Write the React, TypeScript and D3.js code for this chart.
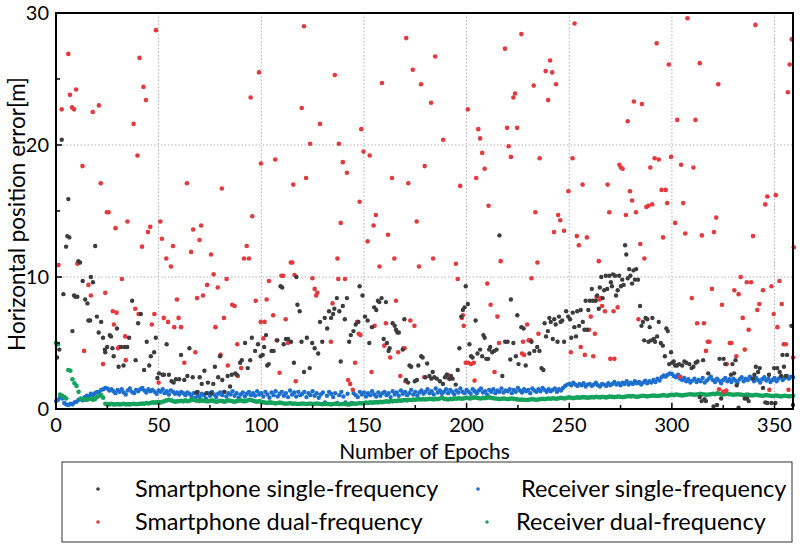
import React, { useEffect, useRef } from 'react';
import * as d3 from 'd3';

// Smartphone single-frequency: [epoch, error (m)]
const phoneSingle: [number, number][] = [
  [0.5,3.9],[1.6,4.5],[2.8,20.4],[3.6,8.7],[4.9,12.3],[5.5,13.1],[6,15.9],[6.5,13.0],[8,5.9],[8.8,8.6],
  [9.5,8.5],[10.4,8.5],[10.9,11.2],[11.7,11.1],[13,9.7],[14.2,8.3],[15.3,8.0],[15.8,6.7],[16.6,6.7],[17,10.0],
  [18,9.6],[19.1,12.35],[19.9,7.0],[20.8,5.8],[22,6.6],[22.9,5.4],[23.8,4.5],[24,4.3],[24.9,4.7],[26.2,5.6],
  [26.8,5.5],[27.5,4.6],[28.1,4.0],[29.7,6.1],[30.5,3.2],[31.7,4.7],[32.9,3.3],[33.4,4.7],[34.7,4.7],[35.6,5.4],
  [37.1,8.2],[38.8,3.7],[40,6.5],[41.3,7.2],[42.9,2.95],[44.2,5.1],[45.4,3.3],[46.2,4.0],[47.8,4.3],[48.6,5.4],
  [49.4,2.35],[50.2,2.7],[51.9,2.6],[52.6,2.6],[53.9,4.9],[55,2.6],[56.3,2.1],[57.3,2.0],[58.4,2.25],[60,2.25],
  [60.9,4.1],[62.5,2.2],[64,2.5],[65,4.6],[66.6,2.4],[68.3,1.25],[69,1.3],[70,2.4],[71,1.9],[72.3,2.9],
  [73.2,1.2],[74,2.0],[75.5,1.2],[76.6,1.9],[77.4,3.2],[79,2.4],[79.9,4.0],[81,2.2],[82,1.3],[83.6,2.5],
  [84.8,1.7],[85.6,2.6],[87.3,2.7],[88,2.6],[89.7,3.5],[90.5,3.7],[92.1,5.0],[93.4,3.1],[94.6,3.7],[95.4,5.4],
  [97,4.4],[98.4,4.9],[99.7,4.0],[100.7,4.1],[101.4,4.7],[102.3,5.6],[102.9,3.3],[103.6,3.4],[105,4.4],[106,4.4],
  [107.8,5.2],[109.4,9.3],[110.2,9.2],[110.9,4.9],[112,5.3],[113,5.3],[114.5,5.1],[115.9,3.5],[117.1,10.0],[117.6,7.9],
  [118.7,7.4],[119.6,5.1],[120.8,2.8],[122.2,5.4],[123.6,3.1],[124.8,5.0],[126,4.6],[127.7,4.2],[128.6,6.6],[129.7,5.1],
  [130.9,6.9],[132.1,6.1],[133,7.4],[134,6.9],[135,7.2],[135.6,7.6],[136.8,8.4],[138,7.4],[138.7,3.6],[139.7,7.8],
  [140.7,6.8],[141.7,8.4],[142.8,5.1],[143.6,5.6],[144.9,5.9],[146,6.4],[147.3,6.6],[147.9,9.3],[149.3,8.6],[150.5,7.0],
  [151.8,6.7],[152.6,5.0],[153.9,6.2],[155,7.7],[156,7.5],[156.8,8.2],[157.5,8.1],[158.6,8.4],[159.6,5.3],[160.7,8.1],
  [161.2,5.0],[162,4.4],[162.5,4.6],[164,6.5],[165,6.3],[165.6,6.0],[166.3,5.8],[167,5.8],[168.9,4.5],[169.7,6.8],
  [170.5,2.2],[171.5,2.0],[172.2,3.3],[173,3.2],[174.8,2.1],[175.8,2.2],[176.5,3.3],[177.9,4.0],[178.6,3.9],[180,2.4],
  [180.8,3.45],[181.9,2.5],[182.8,2.3],[183.5,2.8],[184.3,2.4],[185.5,2.3],[187,2.1],[188.5,1.9],[189.5,2.4],[190.3,2.6],
  [191.6,2.3],[192.4,2.5],[193.2,2.3],[194.7,1.85],[195.7,2.95],[196.5,4.6],[197.4,7.0],[198.2,7.5],[199,7.7],[199.6,9.3],
  [200.6,7.95],[201.4,4.9],[202.2,4.0],[202.9,3.9],[204.4,6.7],[205.3,4.2],[206.6,4.5],[207.6,4.0],[208.2,5.6],[208.8,5.4],
  [209.6,3.8],[210.5,3.8],[211,4.5],[211.5,4.7],[212.5,4.3],[213.5,4.4],[214.6,4.5],[216,13.15],[217.4,2.5],[218.8,5.1],
  [220,5.1],[221.3,3.75],[221.6,8.3],[222.8,5.0],[224,4.0],[224.7,7.1],[225.3,3.4],[226.7,6.2],[227.8,6.1],[228.8,3.3],
  [230.6,4.2],[231.6,5.1],[233,4.4],[234.4,4.7],[235.5,4.4],[236.5,3.1],[237.4,2.95],[238,6.5],[238.7,5.5],[239.6,5.9],
  [240.3,6.9],[241,6.6],[242,5.3],[242.7,6.8],[243.4,6.4],[244.3,5.1],[245,7.0],[245.8,6.6],[246.6,6.7],[247.5,5.1],
  [248.5,7.4],[249.5,7.0],[250.4,6.8],[251,5.4],[251.7,7.3],[252.5,6.2],[253.3,5.5],[253.9,7.4],[254.8,6.3],[255.6,7.5],
  [256.6,6.6],[257.4,6.0],[258,8.2],[258.7,6.0],[259.3,7.5],[260,8.2],[261,9.1],[261.5,8.2],[262.9,8.2],[263.6,8.6],
  [264.4,7.6],[264.9,9.2],[265.6,10.0],[266.3,8.4],[267,9.0],[267.8,10.1],[268.5,9.1],[269.5,10.1],[270.3,9.6],[270.8,9.3],
  [271.3,10.2],[272.3,10.1],[272.8,8.6],[273.6,9.0],[274.3,10.1],[275.2,9.3],[275.8,9.8],[276.5,9.4],[277.2,12.4],[277.8,11.7],
  [278.5,9.9],[279.2,10.6],[279.8,10.1],[280.6,9.5],[281.3,10.5],[282,9.8],[282.6,10.6],[283.5,9.8],[284.5,7.8],[285.2,6.3],
  [285.9,6.6],[286.5,5.2],[287.2,6.9],[288,6.8],[288.6,5.1],[289.2,6.2],[289.9,5.2],[290.5,6.9],[291.2,5.3],[291.8,5.1],
  [292.8,5.5],[293.6,6.6],[294.6,5.0],[295.6,4.8],[296.6,4.0],[297.3,6.1],[298,5.9],[298.7,3.4],[299.6,4.3],[300.2,3.5],
  [300.9,3.6],[301.6,3.3],[302.5,3.3],[303.5,3.4],[305,3.3],[306.1,3.6],[307,3.5],[308.5,3.4],[309.6,3.1],[310.5,3.2],
  [311.6,3.5],[312.5,3.6],[313.6,0.9],[314.5,0.6],[315.2,3.7],[315.9,0.75],[316.6,0.6],[317.7,2.7],[320.3,0.2],[322,0.3],
  [323.2,3.8],[324,0.8],[325.2,3.8],[326,3.4],[328.8,2.6],[329.5,3.4],[330.3,2.7],[331,3.7],[331.6,1.8],[332.5,0.1],
  [335.5,0.8],[336.6,0.8],[337.4,0.6],[339.5,2.3],[340.2,2.6],[340.9,3.2],[342,2.8],[342.8,3.1],[344.4,1.6],[345.5,0.5],
  [346.5,0.45],[347.3,2.6],[348.5,0.45],[349.8,3.1],[350.4,0.45],[351.3,3.1],[352.5,2.8],[353.3,2.5],[353.9,4.1],[354.6,3.2],
  [355.5,2.5],[356.1,4.1],[358.2,6.3],[359,0.3],
];

// Smartphone dual-frequency: [epoch, error (m)]
const phoneDual: [number, number][] = [
  [1.2,10.9],[2.8,22.7],[6,26.9],[6.8,23.8],[7.8,22.85],[8.8,22.7],[9.8,24.2],[10.4,11.0],[11,11.1],[12.9,18.4],
  [13.7,4.4],[15.8,9.4],[17,8.6],[17.9,22.5],[20.9,23.0],[21.8,17.1],[22.9,3.4],[24,8.8],[24.8,14.9],[25.6,14.9],
  [27.7,7.4],[28.2,6.4],[29,13.7],[29.5,7.3],[30.2,4.6],[30.7,4.7],[32.1,9.85],[33.7,5.5],[34,3.7],[34.8,14.2],
  [37.8,21.6],[38.6,7.6],[39.7,19.2],[40.2,7.2],[40.7,26.6],[41.9,12.3],[42.6,24.4],[43.8,23.4],[44.8,13.4],[45.9,13.8],
  [46.7,6.4],[47.9,7.2],[48.7,28.7],[50,2.0],[50.8,14.2],[51.6,12.9],[52.5,6.9],[53.7,11.4],[54.6,6.6],[56,10.8],
  [57,12.35],[57.6,6.2],[58.9,8.3],[59.7,6.9],[60.9,6.2],[62.5,3.5],[63.8,17.1],[65.8,11.9],[66.8,13.6],[67.9,4.3],
  [68.7,8.4],[69.9,12.8],[70.7,13.9],[71.6,8.6],[73.6,9.4],[75.5,11.7],[76.8,10.2],[77.7,6.2],[78.8,9.2],[80.2,4.1],
  [80.8,16.7],[81.8,6.9],[83.1,9.85],[83.7,3.3],[85.8,7.9],[87,7.8],[88.3,4.9],[88.6,2.5],[90.2,3.1],[91.6,11.4],
  [92.9,12.35],[94,11.4],[94.8,23.6],[95.6,14.6],[97.3,8.2],[98.9,25.5],[99.7,6.6],[99.8,18.6],[101,5.35],[101.6,6.6],
  [102.6,8.3],[103.7,9.7],[105.8,7.1],[106.8,18.9],[107.5,5.2],[108.9,2.75],[109.8,10.1],[110.7,10.1],[111.9,6.8],[113,5.0],
  [114.4,11.1],[115.1,11.1],[115.6,17.0],[116.2,10.15],[116.8,2.1],[119.7,22.8],[120.8,29.0],[121.8,17.5],[123.8,20.1],[124.9,9.9],
  [126,9.1],[126.7,8.6],[127.3,8.8],[128.6,21.6],[133.9,5.1],[134.7,8.0],[135.8,25.3],[137.1,11.4],[137.5,9.85],[137.8,20.1],
  [138.7,14.1],[139.7,18.7],[140.8,9.85],[141.7,17.9],[142.3,2.2],[143.3,1.9],[144.6,1.45],[145.7,3.5],[146.7,6.6],[147.5,5.7],
  [147.9,15.7],[148.3,5.6],[148.7,21.2],[149.8,19.5],[151.8,12.7],[152.8,19.2],[153.7,2.8],[154.7,13.9],[155.2,6.3],[155.8,14.7],
  [157.6,10.8],[158.8,24.7],[159.9,4.8],[160.7,6.5],[161.7,13.2],[162.8,3.9],[163.7,17.5],[164.8,11.4],[165.6,8.2],[166.7,4.3],
  [167.7,2.5],[169.2,4.6],[169.8,4.6],[170.2,2.1],[170.6,28.1],[171.6,17.1],[172.6,6.7],[173.8,25.7],[174.6,6.3],[175.7,14.2],
  [176.8,10.8],[177.8,24.6],[179.4,2.4],[179.6,18.4],[182.7,23.2],[183.7,11.4],[184.7,26.7],[188.6,20.4],[190.8,2.6],[191.6,2.3],
  [194.8,11.0],[195.7,9.85],[196.9,16.9],[197.7,6.9],[198.2,7.1],[198.6,6.3],[199.6,3.5],[200.6,22.7],[200.8,3.5],[202.2,3.4],
  [203.5,3.5],[203.9,2.15],[204.7,17.5],[205.7,21.2],[206.6,20.5],[207.6,19.4],[208.8,18.2],[210.1,9.5],[210.7,15.4],[211.7,7.9],
  [213.6,2.8],[215,7.0],[215.8,5.0],[216.6,11.2],[218.7,27.3],[219.7,21.3],[220.5,19.9],[221.6,19.1],[222.8,23.6],[223.6,23.9],
  [224.6,21.3],[226.7,28.4],[227,4.2],[227.5,5.1],[228,4.1],[229.5,6.4],[230.2,5.2],[231.2,5.2],[231.6,9.9],[232.7,24.5],
  [233.5,14.9],[234.5,11.1],[235,5.7],[235.6,19.0],[238.5,25.6],[239.7,23.4],[240.7,26.4],[241.7,25.5],[242.6,13.4],[243.6,24.6],
  [244.6,14.7],[245.6,14.3],[247.5,13.5],[249.6,16.5],[250.8,4.3],[251.6,19.0],[252.6,29.2],[253.7,13.1],[254.7,12.4],[255.6,4.7],
  [256.5,17.0],[257.6,4.1],[258.6,13.0],[259.7,6.0],[260.5,7.0],[261.7,4.0],[262.5,5.7],[263.3,8.5],[264.4,11.2],[264.8,8.3],
  [265.5,8.4],[266,7.8],[267.4,7.4],[268.7,17.0],[269.5,14.9],[270,3.8],[271.6,7.4],[272,3.8],[273.6,7.7],[274.4,18.5],
  [275.2,18.3],[276,18.2],[277.6,14.7],[278.5,21.8],[279.6,16.5],[280.6,15.8],[281.5,23.3],[282.5,14.9],[283.7,6.8],[284.6,12.5],
  [285.4,23.1],[286.6,11.4],[287.6,15.3],[288.5,15.4],[289.5,18.3],[290.4,15.5],[291.6,19.0],[292.6,27.7],[293.6,18.9],[295,16.6],
  [295.7,13.0],[297,16.6],[297.7,15.6],[298.5,26.1],[299.6,19.1],[301.6,14.1],[302.6,21.9],[304,2.45],[304.5,18.5],[305.5,15.6],
  [306.5,13.3],[307.6,29.6],[309.7,8.4],[310.5,18.3],[311.5,21.9],[312.3,6.5],[313.6,26.2],[314.6,13.15],[315.6,6.5],[316.6,4.4],
  [317.5,5.1],[318.3,5.1],[319.5,9.1],[320.5,13.4],[321.6,14.5],[322.6,24.6],[323,1.5],[324.4,7.9],[325,1.3],[326.5,1.4],
  [326.7,3.4],[328.2,5.0],[329,5.0],[330.4,9.0],[331.4,4.0],[332.5,8.7],[333.5,10.0],[334.5,6.9],[335.5,4.5],[336.5,9.6],
  [337.4,6.0],[338.6,9.6],[339.5,13.1],[340.7,29.1],[341.6,7.5],[342.6,7.95],[344.4,9.0],[345.5,15.5],[346.5,16.1],[347.5,1.45],
  [348.5,9.3],[349.6,7.2],[350.6,16.2],[351.4,6.2],[352.4,9.7],[353.5,7.95],[354.5,4.9],[355.5,4.9],[356.5,24.0],[356.8,1.45],
  [357.4,26.1],[358.4,28.0],[359,3.9],[359.4,12.25],
];

// Receiver single-frequency, one value per epoch (0..359)
const receiverSingle = [
  0.6, 0.7, 0.9, 0.8, 0.45, 0.35, 0.3, 0.4, 0.35, 0.5, 0.55, 0.7, 0.75, 0.65, 0.9, 1.0, 0.95, 1.15, 1.05, 1.2,
  1.3, 1.25, 1.45, 1.5, 1.6, 1.55, 1.4, 1.5, 1.35, 1.2, 1.45, 1.3, 1.5, 1.25, 1.1, 1.4, 1.55, 1.3, 1.2, 1.45,
  1.35, 1.5, 1.6, 1.4, 1.25, 1.5, 1.35, 1.45, 1.3, 1.15, 1.4, 1.3, 1.5, 1.2, 1.35, 1.1, 1.4, 1.3, 1.15, 1.25,
  1.1, 1.3, 1.2, 1.05, 1.25, 1.15, 0.95, 1.2, 0.85, 1.1, 0.9, 1.15, 1.05, 0.8, 1.2, 1.0, 1.3, 1.1, 0.9, 1.15,
  1.25, 1.05, 1.3, 0.95, 1.2, 1.1, 1.35, 1.0, 1.2, 0.85, 1.1, 1.25, 0.95, 1.15, 1.3, 1.05, 1.2, 1.0, 1.35, 1.1,
  1.2, 0.95, 1.3, 1.1, 0.85, 1.25, 1.05, 1.35, 0.95, 1.15, 1.3, 1.0, 1.2, 0.9, 1.4, 1.1, 1.25, 0.95, 1.3, 1.05,
  1.15, 1.3, 0.9, 1.2, 1.05, 1.35, 1.0, 1.2, 0.85, 1.1, 1.25, 0.5, 1.0, 1.3, 1.15, 0.9, 1.2, 0.45, 1.05, 1.3,
  0.95, 0.5, 1.15, 0.35, 0.45, 1.2, 1.05, 0.9, 1.3, 1.1, 1.25, 0.95, 1.2, 1.05, 1.35, 1.1, 0.95, 1.25, 1.0, 1.2,
  1.3, 1.05, 1.2, 0.9, 1.35, 1.1, 1.25, 1.0, 1.4, 1.15, 1.3, 1.05, 1.2, 1.45, 1.1, 1.3, 1.0, 1.25, 1.4, 1.15,
  1.3, 1.5, 1.2, 1.35, 1.1, 1.55, 1.25, 1.4, 1.15, 1.3, 1.5, 1.2, 1.45, 1.3, 1.1, 1.4, 1.25, 1.55, 1.3, 1.2,
  1.45, 1.3, 1.15, 1.5, 1.35, 1.2, 1.4, 1.55, 1.25, 1.35, 1.1, 1.45, 1.3, 1.5, 1.2, 1.4, 1.3, 1.55, 1.25, 1.4,
  1.35, 1.5, 1.2, 1.45, 1.3, 1.6, 1.4, 1.25, 1.5, 1.35, 1.45, 1.2, 1.55, 1.4, 1.3, 1.5, 1.35, 1.6, 1.45, 1.3,
  1.5, 1.35, 1.45, 1.55, 1.3, 1.5, 1.4, 1.6, 1.75, 1.85, 1.9, 1.8, 2.0, 1.85, 1.75, 1.9, 1.8, 1.95, 1.7, 1.85,
  1.9, 1.75, 1.85, 2.0, 1.8, 1.7, 1.9, 1.85, 1.75, 1.95, 1.8, 1.9, 2.05, 1.85, 1.95, 1.8, 2.0, 1.9, 2.1, 1.85,
  2.0, 1.9, 2.1, 1.95, 2.05, 1.85, 2.0, 2.15, 1.95, 2.1, 2.0, 2.2, 2.05, 2.3, 2.15, 2.4, 2.55, 2.45, 2.6, 2.7,
  2.65, 2.5, 2.4, 2.6, 2.3, 2.2, 2.35, 2.1, 2.25, 2.0, 2.15, 2.3, 2.05, 2.2, 2.1, 2.35, 2.0, 2.15, 2.3, 2.45,
  2.2, 2.05, 2.3, 2.15, 1.95, 2.2, 2.35, 2.1, 2.25, 2.05, 2.3, 2.15, 2.0, 2.25, 2.4, 2.1, 2.3, 2.2, 2.45, 2.3,
  2.1, 2.35, 2.2, 2.0, 2.25, 2.4, 2.15, 2.3, 2.05, 2.2, 2.35, 2.1, 2.3, 2.45, 2.2, 2.35, 2.5, 2.3, 2.45, 2.4,
];

// Receiver dual-frequency, one value per epoch (0..359)
const receiverDual = [
  5.0, 4.9, 1.1, 1.0, 0.9, 0.8, 2.95, 2.9, 2.25, 1.95, 1.75, 1.3, 0.8, 0.75, 0.7, 0.7, 0.75, 0.8, 0.7, 0.75,
  0.9, 1.0, 1.05, 0.85, 0.4, 0.35, 0.35, 0.4, 0.35, 0.35, 0.38, 0.35, 0.36, 0.4, 0.35, 0.37, 0.35, 0.38, 0.4, 0.36,
  0.38, 0.4, 0.42, 0.4, 0.45, 0.42, 0.45, 0.5, 0.48, 0.5, 0.52, 0.5, 0.55, 0.6, 0.65, 0.7, 0.65, 0.6, 0.55, 0.58,
  0.6, 0.62, 0.58, 0.65, 0.6, 0.62, 0.68, 0.7, 0.65, 0.62, 0.6, 0.65, 0.62, 0.6, 0.58, 0.62, 0.65, 0.6, 0.55, 0.58,
  0.62, 0.6, 0.55, 0.6, 0.65, 0.62, 0.58, 0.55, 0.6, 0.62, 0.65, 0.6, 0.58, 0.62, 0.7, 0.68, 0.62, 0.58, 0.55, 0.6,
  0.55, 0.5, 0.48, 0.45, 0.5, 0.48, 0.45, 0.42, 0.45, 0.48, 0.45, 0.42, 0.4, 0.42, 0.45, 0.4, 0.42, 0.4, 0.38, 0.4,
  0.42, 0.4, 0.38, 0.4, 0.42, 0.38, 0.4, 0.42, 0.4, 0.38, 0.36, 0.38, 0.4, 0.38, 0.35, 0.38, 0.4, 0.38, 0.36, 0.38,
  0.4, 0.38, 0.35, 0.38, 0.4, 0.42, 0.4, 0.42, 0.45, 0.42, 0.45, 0.48, 0.45, 0.5, 0.48, 0.5, 0.52, 0.5, 0.55, 0.52,
  0.55, 0.58, 0.55, 0.6, 0.58, 0.62, 0.6, 0.65, 0.62, 0.65, 0.68, 0.65, 0.7, 0.68, 0.72, 0.7, 0.72, 0.75, 0.72, 0.75,
  0.72, 0.75, 0.78, 0.75, 0.72, 0.78, 0.75, 0.8, 0.85, 0.78, 0.75, 0.72, 0.78, 0.75, 0.8, 0.78, 0.82, 0.8, 0.78, 0.82,
  0.85, 0.82, 0.8, 0.85, 0.88, 0.85, 0.82, 0.8, 0.85, 0.82, 0.85, 0.88, 0.85, 0.82, 0.8, 0.78, 0.75, 0.78, 0.8, 0.78,
  0.75, 0.78, 0.8, 0.78, 0.75, 0.72, 0.7, 0.72, 0.7, 0.68, 0.7, 0.72, 0.75, 0.72, 0.7, 0.72, 0.75, 0.78, 0.75, 0.78,
  0.8, 0.78, 0.82, 0.8, 0.78, 0.82, 0.85, 0.82, 0.8, 0.85, 0.88, 0.85, 0.82, 0.85, 0.88, 0.85, 0.88, 0.9, 0.88, 0.85,
  0.88, 0.9, 0.88, 0.92, 0.9, 0.88, 0.92, 0.9, 0.88, 0.92, 0.95, 0.92, 0.9, 0.92, 0.95, 0.92, 0.9, 0.92, 0.95, 0.98,
  0.95, 0.98, 0.95, 0.92, 0.95, 0.98, 1.0, 0.98, 0.95, 0.98, 1.0, 1.02, 1.0, 0.98, 1.0, 1.02, 1.05, 1.02, 1.0, 1.05,
  1.08, 1.05, 1.1, 1.08, 1.05, 1.02, 1.05, 1.08, 1.1, 1.12, 1.1, 1.08, 1.1, 1.12, 1.15, 1.12, 1.1, 1.08, 1.1, 1.12,
  1.15, 1.12, 1.18, 1.15, 1.12, 1.1, 1.12, 1.15, 1.12, 1.1, 1.08, 1.1, 1.12, 1.1, 1.08, 1.05, 1.08, 1.1, 1.05, 1.02,
  1.05, 1.08, 1.05, 1.02, 1.0, 1.02, 1.05, 1.02, 1.0, 0.98, 1.0, 1.02, 0.98, 0.95, 0.98, 1.0, 0.98, 0.95, 0.98, 1.0,
];

const xMajorTicks = [0, 50, 100, 150, 200, 250, 300, 350];
const xMinorTicks = [25, 75, 125, 175, 225, 275, 325];
const yMajorTicks = [0, 10, 20, 30];
const yMinorTicks = [5, 15, 25];

const legendLabels = [
  'Smartphone single-frequency',
  'Receiver single-frequency',
  'Smartphone dual-frequency',
  'Receiver dual-frequency',
];
const legendColors = ['#3c3c3c', '#1c6fce', '#e4393d', '#14a35c'];

const FONT = 'Lato, Carlito, "Liberation Sans", sans-serif';

const App = () => {
  const svgRef = useRef<SVGSVGElement>(null);

  useEffect(() => {
    const svg = d3.select(svgRef.current);
    svg.selectAll('*').remove();

    const x = d3.scaleLinear().domain([0, 359]).range([56, 793]);
    const y = d3.scaleLinear().domain([0, 30]).range([409, 13]);
    const [x0, x1] = x.range();
    const [y0, y1] = y.range();

    svg.append('rect').attr('width', 800).attr('height', 546).attr('fill', '#fff');

    // dotted grid
    const grid = svg.append('g')
      .attr('stroke', '#b2b2b2')
      .attr('stroke-width', 1)
      .attr('stroke-dasharray', '1.5,2');
    grid.selectAll('line.vx')
      .data(xMajorTicks.filter(t => t > 0))
      .join('line')
      .attr('x1', d => x(d)).attr('x2', d => x(d))
      .attr('y1', y1).attr('y2', y0);
    grid.selectAll('line.hy')
      .data(yMajorTicks.filter(t => t > 0 && t < 30))
      .join('line')
      .attr('y1', d => y(d)).attr('y2', d => y(d))
      .attr('x1', x0).attr('x2', x1);

    const dots = (data: [number, number][], color: string, r: number) => {
      svg.append('g')
        .selectAll('circle')
        .data(data)
        .join('circle')
        .attr('cx', d => x(d[0]))
        .attr('cy', d => y(d[1]))
        .attr('r', r)
        .attr('fill', color);
    };

    dots(receiverSingle.map((v, i) => [i, v] as [number, number]), legendColors[1], 2.2);
    dots(receiverDual.map((v, i) => [i, v] as [number, number]), legendColors[3], 2.3);
    dots(phoneDual, legendColors[2], 2.3);
    dots(phoneSingle, legendColors[0], 2.2);

    // frame
    svg.append('rect')
      .attr('x', x0).attr('y', y1)
      .attr('width', x1 - x0).attr('height', y0 - y1)
      .attr('fill', 'none').attr('stroke', '#000').attr('stroke-width', 2);

    // inward ticks
    const ticks = svg.append('g').attr('stroke', '#000').attr('stroke-width', 1.5);
    ticks.selectAll('line.xt')
      .data([...xMajorTicks.map(t => [t, 6]), ...xMinorTicks.map(t => [t, 4])])
      .join('line')
      .attr('x1', d => x(d[0])).attr('x2', d => x(d[0]))
      .attr('y1', y0).attr('y2', d => y0 - d[1]);
    ticks.selectAll('line.yt')
      .data([...yMajorTicks.map(t => [t, 6]), ...yMinorTicks.map(t => [t, 4])])
      .join('line')
      .attr('y1', d => y(d[0])).attr('y2', d => y(d[0]))
      .attr('x1', x0).attr('x2', d => x0 + d[1]);

    // tick labels
    svg.append('g')
      .selectAll('text')
      .data(xMajorTicks)
      .join('text')
      .attr('x', d => x(d))
      .attr('y', 432)
      .attr('text-anchor', 'middle')
      .style('font-family', FONT)
      .style('font-size', '20px')
      .text(d => d);
    svg.append('g')
      .selectAll('text')
      .data(yMajorTicks)
      .join('text')
      .attr('x', 49)
      .attr('y', d => y(d) + 7)
      .attr('text-anchor', 'end')
      .style('font-family', FONT)
      .style('font-size', '20px')
      .text(d => d);

    // axis titles
    svg.append('text')
      .attr('x', (x0 + x1) / 2)
      .attr('y', 459)
      .attr('text-anchor', 'middle')
      .style('font-family', FONT)
      .style('font-size', '21px')
      .text('Number of Epochs');
    svg.append('text')
      .attr('transform', `translate(25, ${(y0 + y1) / 2 + 3}) rotate(-90)`)
      .attr('text-anchor', 'middle')
      .style('font-family', FONT)
      .style('font-size', '22.5px')
      .text('Horizontal position error[m]');

    // legend
    svg.append('rect')
      .attr('x', 62).attr('y', 462)
      .attr('width', 730).attr('height', 80)
      .attr('fill', '#fff').attr('stroke', '#333').attr('stroke-width', 1);
    const legendPos = [
      { mx: 98, tx: 135, ty: 497 },
      { mx: 478, tx: 521, ty: 497 },
      { mx: 98, tx: 135, ty: 530 },
      { mx: 487, tx: 516, ty: 530 },
    ];
    const items = svg.append('g')
      .selectAll('g')
      .data(legendLabels)
      .join('g');
    items.append('circle')
      .attr('cx', (d, i) => legendPos[i].mx)
      .attr('cy', (d, i) => legendPos[i].ty - 8)
      .attr('r', 1.8)
      .attr('fill', (d, i) => legendColors[i]);
    items.append('text')
      .attr('x', (d, i) => legendPos[i].tx)
      .attr('y', (d, i) => legendPos[i].ty)
      .style('font-family', FONT)
      .style('font-size', '23.5px')
      .text(d => d);
  }, []);

  return (
    <svg
      ref={svgRef}
      width={800}
      height={546}
      style={{ position: 'absolute', left: 0, top: 0 }}
    />
  );
};

export default App;
